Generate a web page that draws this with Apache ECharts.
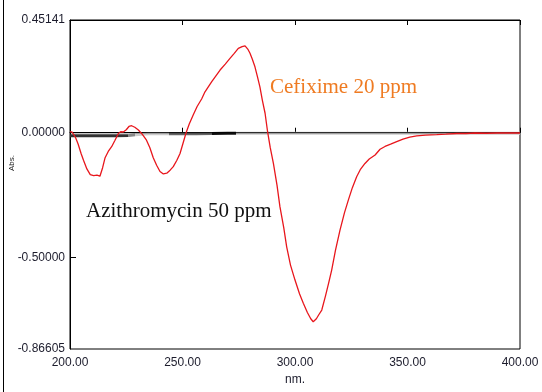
<!DOCTYPE html>
<html>
<head>
<meta charset="utf-8">
<script src="https://cdn.jsdelivr.net/npm/echarts@6/dist/echarts.min.js"></script>
<style>
  html, body { margin: 0; padding: 0; background: #fff; }
  #chart { width: 542px; height: 392px; }
</style>
</head>
<body>
<div id="chart"></div>
<script>
// Cefixime 20 ppm spectrum
const cefWl = [200.0, 201.0, 202.5, 203.6, 205.0, 206.0, 207.5, 209.0, 210.5, 212.0, 213.3, 214.5, 215.6, 217.0, 218.5, 220.0, 221.5, 222.5, 223.7, 225.0, 226.2, 227.4, 228.8, 230.4, 232.0, 234.0, 235.5, 237.0, 238.5, 240.0, 241.5, 243.0, 244.5, 245.9, 247.5, 248.9, 250.3, 251.6, 253.0, 254.8, 256.5, 258.5, 260.0, 263.0, 266.7, 269.0, 271.1, 273.0, 274.8, 276.5, 277.8, 279.0, 280.0, 281.0, 282.2, 283.3, 284.4, 285.5, 286.7, 287.8, 289.0, 290.4, 292.0, 293.3, 295.0, 296.3, 298.0, 300.0, 302.0, 303.7, 305.5, 307.0, 308.1, 309.5, 310.5, 311.9, 313.5, 315.0, 316.3, 318.0, 320.0, 322.0, 323.7, 325.5, 327.4, 329.0, 331.1, 333.0, 335.6, 337.8, 340.0, 342.5, 345.2, 348.0, 351.0, 354.1, 358.0, 363.0, 367.0, 371.9, 376.0, 380.0, 385.0, 390.0, 395.0, 400.0];
const cefAbs = [0.004, 0.002, -0.02, -0.045, -0.085, -0.11, -0.145, -0.168, -0.172, -0.170, -0.174, -0.14, -0.10, -0.075, -0.056, -0.03, -0.003, 0.004, 0.003, 0.012, 0.025, 0.028, 0.022, 0.011, -0.005, -0.03, -0.06, -0.10, -0.13, -0.155, -0.165, -0.162, -0.150, -0.136, -0.11, -0.083, -0.04, 0.0, 0.035, 0.072, 0.105, 0.135, 0.164, 0.205, 0.251, 0.275, 0.298, 0.318, 0.338, 0.345, 0.348, 0.335, 0.318, 0.295, 0.264, 0.225, 0.184, 0.13, 0.078, 0.005, -0.06, -0.123, -0.21, -0.296, -0.38, -0.457, -0.53, -0.590, -0.645, -0.683, -0.72, -0.745, -0.757, -0.745, -0.73, -0.710, -0.655, -0.60, -0.550, -0.47, -0.390, -0.32, -0.270, -0.22, -0.176, -0.148, -0.123, -0.105, -0.089, -0.066, -0.055, -0.046, -0.036, -0.026, -0.018, -0.013, -0.010, -0.008, -0.006, -0.003, -0.003, -0.001, -0.002, -0.001, -0.001, -0.001];

// Azithromycin 50 ppm, almost flat near zero
const aziWl = [200, 210, 220, 226, 229, 235, 244, 250, 256, 263, 270, 274, 280, 300, 350, 400];
const aziAbs = [-0.012, -0.012, -0.012, -0.011, -0.008, -0.004, -0.004, -0.004, -0.004, -0.003, -0.002, -0.002, -0.002, -0.002, -0.002, -0.002];

const xTicks = [200, 250, 300, 350, 400];
const yLabels = [-0.86605, -0.5, 0, 0.45141];
const yTicks = [-0.5, 0];

const zip = (a, b) => a.map((v, i) => [v, b[i]]);

const chart = echarts.init(document.getElementById('chart'));
const lblFont = { fontFamily: 'Liberation Sans, Arial, sans-serif', fontSize: 12, color: '#1c1c2c' };

chart.setOption({
  animation: false,
  backgroundColor: '#fff',
  grid: { left: 70, top: 20, right: 22, bottom: 43, show: true, borderColor: '#000', borderWidth: 1 },
  xAxis: [{
    type: 'value', min: 200, max: 400, interval: 50,
    axisLine: { lineStyle: { color: '#000' } },
    axisTick: { inside: true, length: 5, lineStyle: { color: '#000' } },
    splitLine: { show: false },
    axisLabel: Object.assign({ margin: 8, formatter: v => v.toFixed(2) }, lblFont),
    name: 'nm.', nameLocation: 'middle', nameGap: 24,
    nameTextStyle: lblFont
  }, {
    type: 'value', position: 'top', min: 200, max: 400, interval: 50,
    axisLine: { lineStyle: { color: '#000' } },
    axisTick: { inside: true, length: 5, lineStyle: { color: '#000' } },
    axisLabel: { show: false }, splitLine: { show: false }
  }],
  yAxis: {
    type: 'value', min: -0.86605, max: 0.45141,
    axisLine: { show: true, lineStyle: { color: '#000' } },
    axisTick: { show: true, inside: true, length: 6, customValues: yTicks, lineStyle: { color: '#000' } },
    splitLine: { show: false },
    axisLabel: Object.assign({ customValues: yLabels, margin: 5, formatter: v => v.toFixed(5) }, lblFont)
  },
  visualMap: {
    show: false, type: 'piecewise', seriesIndex: 0, dimension: 0,
    pieces: [
      { lt: 226, color: '#333' },
      { gte: 226, lt: 229, color: '#888' },
      { gte: 229, lt: 244, color: '#ccc' },
      { gte: 244, lt: 263, color: '#666' },
      { gte: 263, lt: 274, color: '#111' },
      { gte: 274, color: '#ccc' }
    ]
  },
  series: [{
    name: 'Azithromycin 50 ppm', type: 'line', showSymbol: false,
    data: zip(aziWl, aziAbs), lineStyle: { width: 3 }
  }, {
    name: 'baseline', type: 'line', showSymbol: false,
    data: [[200, 0], [400, 0]], lineStyle: { color: '#000', width: 1 }
  }, {
    name: 'Cefixime 20 ppm', type: 'line', showSymbol: false,
    data: zip(cefWl, cefAbs), lineStyle: { color: '#e8161c', width: 1.3 }
  }],
  graphic: [
    { type: 'line', shape: { x1: 3.5, y1: 0, x2: 3.5, y2: 392 }, style: { stroke: '#000', lineWidth: 1 } },
    { type: 'text', x: 12, y: 163, rotation: Math.PI / 2, style: { text: 'Abs.', font: '8px "Liberation Sans", Arial, sans-serif', fill: '#222', align: 'center', verticalAlign: 'middle' } },
    { type: 'text', left: 270, top: 77, style: { text: 'Cefixime 20 ppm', font: '21px "Liberation Serif", "Times New Roman", serif', fill: '#ef7b22' } },
    { type: 'text', left: 86, top: 201, style: { text: 'Azithromycin 50 ppm', font: '21px "Liberation Serif", "Times New Roman", serif', fill: '#111' } }
  ]
});
</script>
</body>
</html>
